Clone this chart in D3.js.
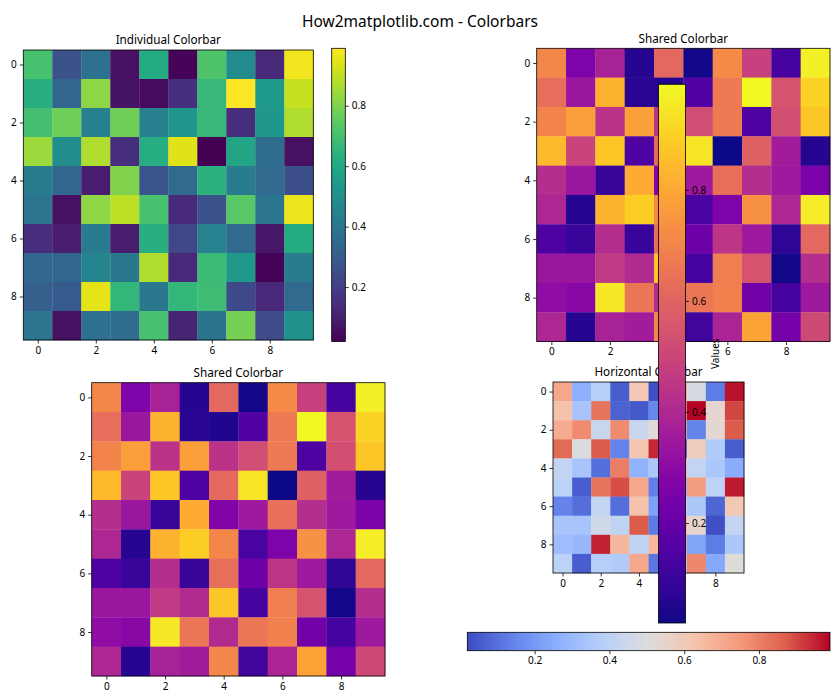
<!DOCTYPE html>
<html><head><meta charset="utf-8">
<script src="https://cdn.jsdelivr.net/npm/d3@7"></script>
<style>
body{margin:0;background:#fff}
svg text{font-family:"Noto Sans","Open Sans",sans-serif;fill:#000}
</style>
</head><body>
<svg id="chart" width="840" height="700"></svg>
<script>
// ---- data (one 10x10 matrix shown with three colormaps) ----
const rowIndex = [0,1,2,3,4,5,6,7,8,9];
const colIndex = [0,1,2,3,4,5,6,7,8,9];
const values = [
  [0.709,0.263,0.379,0.059,0.612,0.030,0.718,0.486,0.127,0.971],
  [0.631,0.340,0.825,0.069,0.049,0.156,0.670,0.990,0.544,0.903],
  [0.699,0.777,0.437,0.777,0.437,0.524,0.670,0.146,0.534,0.874],
  [0.845,0.495,0.874,0.146,0.621,0.942,0.020,0.592,0.360,0.059],
  [0.418,0.340,0.098,0.806,0.272,0.350,0.641,0.418,0.350,0.253],
  [0.398,0.059,0.825,0.893,0.709,0.136,0.263,0.738,0.398,0.961],
  [0.146,0.098,0.418,0.098,0.631,0.224,0.447,0.350,0.078,0.612],
  [0.340,0.340,0.457,0.408,0.874,0.127,0.680,0.544,0.030,0.418],
  [0.311,0.292,0.951,0.660,0.408,0.660,0.689,0.233,0.127,0.350],
  [0.398,0.059,0.379,0.360,0.709,0.117,0.389,0.786,0.243,0.515]
];
const axisTicks = [0,2,4,6,8];
const colorbarTicks = [0.2,0.4,0.6,0.8];
const suptitle = "How2matplotlib.com - Colorbars";
const subplotTitles = ["Individual Colorbar","Shared Colorbar","Shared Colorbar","Horizontal Colorbar"];
const sharedLabel = "Values";

// coolwarm colormap stops
const coolwarmStops = ["#3b4cc0","#6282ea","#8db0fe","#b8d0f9","#dddddd","#f5c4ad","#f49a7b","#de604d","#b40426"];
const interpCoolwarm = d3.piecewise(d3.interpolateRgb, coolwarmStops);

const svg = d3.select("#chart");
const FS = 10;
const flat = values.flat();
const ext = d3.extent(flat);

svg.append("text").attr("x",420).attr("y",26.5).attr("text-anchor","middle")
  .style("font-size","15.5px").text(suptitle);

let gradId = 0;
function heatmap(box, interp, title){
  const g = svg.append("g");
  const x = d3.scaleLinear().domain([-0.5,9.5]).range([box.x, box.x+box.s]);
  const y = d3.scaleLinear().domain([-0.5,9.5]).range([box.y, box.y+box.s]);
  const color = d3.scaleSequential(interp).domain(ext);
  const cells = [];
  rowIndex.forEach(r => colIndex.forEach(c => cells.push({r, c, v: values[r][c]})));
  g.selectAll("rect.cell").data(cells).join("rect").attr("class","cell")
    .attr("x", d => x(d.c-0.5)).attr("y", d => y(d.r-0.5))
    .attr("width", d => x(d.c+0.5)-x(d.c-0.5)+0.3).attr("height", d => y(d.r+0.5)-y(d.r-0.5)+0.3)
    .attr("fill", d => color(d.v));
  g.append("rect").attr("x",box.x).attr("y",box.y).attr("width",box.s).attr("height",box.s)
    .attr("fill","none").attr("stroke","#000").attr("stroke-width",0.8);
  const ax = g.append("g").attr("transform",`translate(0,${box.y+box.s})`)
    .call(d3.axisBottom(x).tickValues(axisTicks).tickSize(3.5).tickPadding(3).tickFormat(d3.format("d")));
  const ay = g.append("g").attr("transform",`translate(${box.x},0)`)
    .call(d3.axisLeft(y).tickValues(axisTicks).tickSize(3.5).tickPadding(3).tickFormat(d3.format("d")));
  [ax,ay].forEach(a => {
    a.select(".domain").remove();
    a.attr("font-family",null).attr("font-size",null);
    a.selectAll("text").style("font-size",FS+"px");
    a.selectAll("line").attr("stroke","#000").attr("stroke-width",0.8);
  });
  g.append("text").attr("x",box.x+box.s/2).attr("y",box.y-5.8).attr("text-anchor","middle")
    .style("font-size","11.7px").text(title);
  return g;
}

function colorbar(box, interp, vertical, label){
  const g = svg.append("g");
  const id = "grad"+(gradId++);
  const grad = svg.append("defs").append("linearGradient").attr("id",id)
    .attr("x1",0).attr("y1",vertical?1:0).attr("x2",vertical?0:1).attr("y2",0);
  d3.range(0,1.0001,1/48).forEach(t => grad.append("stop").attr("offset",t).attr("stop-color",interp(t)));
  g.append("rect").attr("x",box.x).attr("y",box.y).attr("width",box.w).attr("height",box.h)
    .attr("fill",`url(#${id})`);
  g.append("rect").attr("x",box.x).attr("y",box.y).attr("width",box.w).attr("height",box.h)
    .attr("fill","none").attr("stroke","#000").attr("stroke-width",0.8);
  let a;
  if (vertical){
    const s = d3.scaleLinear().domain(ext).range([box.y+box.h, box.y]);
    a = g.append("g").attr("transform",`translate(${box.x+box.w},0)`)
      .call(d3.axisRight(s).tickValues(colorbarTicks).tickSize(3.5).tickPadding(3).tickFormat(d3.format(".1f")));
  } else {
    const s = d3.scaleLinear().domain(ext).range([box.x, box.x+box.w]);
    a = g.append("g").attr("transform",`translate(0,${box.y+box.h})`)
      .call(d3.axisBottom(s).tickValues(colorbarTicks).tickSize(3.5).tickPadding(3).tickFormat(d3.format(".1f")));
  }
  a.select(".domain").remove();
  a.attr("font-family",null).attr("font-size",null);
  a.selectAll("text").style("font-size",FS+"px");
  a.selectAll("line").attr("stroke","#000").attr("stroke-width",0.8);
  if (label){
    const lx = box.x+box.w+33.5, ly = box.y+box.h/2;
    g.append("text").attr("transform",`translate(${lx},${ly}) rotate(-90)`)
      .attr("text-anchor","middle").style("font-size",FS+"px").text(label);
  }
}

heatmap({x:23.3,y:50,s:290}, d3.interpolateViridis, subplotTitles[0]);
colorbar({x:331.7,y:48.3,w:13.6,h:293.2}, d3.interpolateViridis, true, null);
heatmap({x:536.7,y:48.3,s:293.3}, d3.interpolatePlasma, subplotTitles[1]);
heatmap({x:91.7,y:382.7,s:293.3}, d3.interpolatePlasma, subplotTitles[2]);
heatmap({x:553,y:382,s:191}, interpCoolwarm, subplotTitles[3]);
colorbar({x:467.3,y:632.3,w:362.7,h:18.4}, interpCoolwarm, false, null);
colorbar({x:658.5,y:84.3,w:27,h:538.7}, d3.interpolatePlasma, true, sharedLabel);
</script>
</body></html>
